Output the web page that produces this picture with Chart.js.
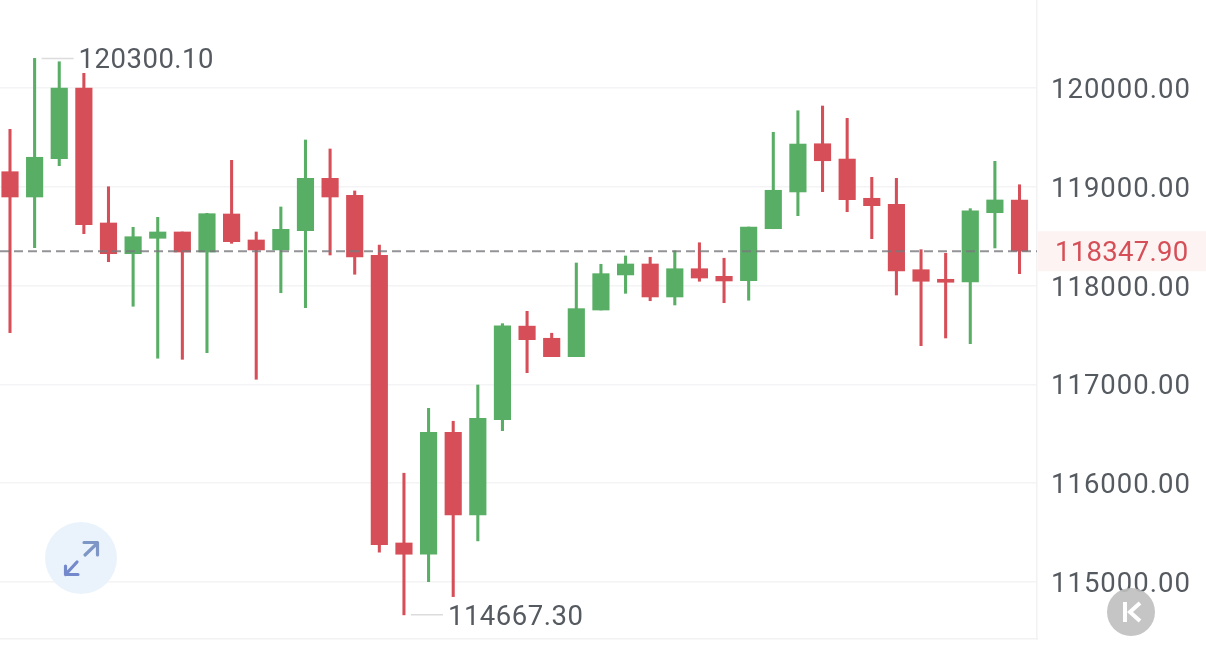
<!DOCTYPE html>
<html>
<head>
<meta charset="utf-8">
<title>Candles</title>
<script src="https://cdn.jsdelivr.net/npm/chart.js@4"></script>
<style>
  html, body { margin: 0; padding: 0; background: #fff; overflow: hidden; }
  #wrap { position: relative; width: 1206px; height: 645px; }
  #chart { display: block; }
  svg.btn { position: absolute; left: 0; top: 0; pointer-events: none; }
</style>
</head>
<body>
<div id="wrap">
  <canvas id="chart" width="1206" height="645"></canvas>
  <svg class="btn" width="1206" height="645" viewBox="0 0 1206 645">
    <circle cx="81" cy="558" r="36" fill="#eaf3fc"/>
    <g fill="none" stroke-width="3.2" stroke-linecap="round" stroke-linejoin="round">
      <path d="M85 555 L97.5 543 M84 542.5 H97.5 V555" stroke="#7e96c6"/>
      <path d="M77 562 L65.5 574.5 M65.5 566 V574.5 H78" stroke="#7488cc"/>
    </g>
    <circle cx="1131" cy="612" r="24" fill="#bfbfbf" fill-opacity="0.9"/>
    <path d="M1125 602 V622" stroke="#fff" stroke-width="4" fill="none"/>
    <path d="M1140 603 L1130 612 L1140 621" stroke="#fff" stroke-width="4" fill="none"/>
  </svg>
</div>
<script>
// Candle data
const candleIndex = [0, 1, 2, 3, 4, 5, 6, 7, 8, 9, 10, 11, 12, 13, 14, 15, 16, 17, 18, 19, 20,
  21, 22, 23, 24, 25, 26, 27, 28, 29, 30, 31, 32, 33, 34, 35, 36, 37, 38, 39, 40, 41];
const opens = [119153, 118897, 119285, 120000, 118634, 118323, 118479, 118543, 118340, 118725, 118462,
  118361, 118556, 119086, 118914, 118307, 115395, 115281, 116516, 115678, 116643,
  117590, 117467, 117281, 117753, 118108, 118219, 117885, 118171, 118094, 118050,
  118576, 118948, 119436, 119281, 118884, 118823, 118161, 118064, 118037, 118738, 118867];
const closes = [118897, 119299, 120000, 118617, 118323, 118495, 118543, 118340, 118728, 118445, 118361,
  118570, 119086, 118897, 118290, 115378, 115281, 116516, 115678, 116657, 117594,
  117453, 117281, 117767, 118121, 118219, 117885, 118171, 118077, 118047, 118593,
  118965, 119433, 119264, 118870, 118809, 118148, 118044, 118034, 118758, 118867, 118347.9];
const highs = [119582, 120300.1, 120266, 120149, 119001, 118590, 118691, 118543, 118732, 119268, 118543,
  118796, 119474, 119383, 118958, 118411, 116101, 116758, 116627, 116994, 117615,
  117740, 117518, 118229, 118216, 118300, 118287, 118353, 118434, 118277, 118593,
  119552, 119770, 119818, 119693, 119096, 119086, 118364, 118327, 118779, 119258, 119021];
const lows = [117524, 118384, 119214, 118526, 118242, 117791, 117265, 117254, 117321, 118428, 117052,
  117928, 117777, 118310, 118115, 115301, 114667.3, 115003, 114852, 115416, 116532,
  117119, 117281, 117281, 117753, 117922, 117847, 117804, 118044, 117827, 117852,
  118576, 118708, 118951, 118748, 118475, 117905, 117392, 117470, 117412, 118381, 118121];
const priceTicks = [115000, 116000, 117000, 118000, 119000, 120000];
const lastPrice = 118347.9;

const GREEN = '#58ae64';
const RED = '#d64f58';
const TEXT = '#555a60';
const FONT = 'Roboto, sans-serif';
const FONT_SIZE = 27.5;

const candleColors = candleIndex.map(i => closes[i] >= opens[i] ? GREEN : RED);

// last price line, its tag and the high / low markers
const overlay = {
  id: 'overlay',
  beforeDraw(chart) {
    chart.ctx.letterSpacing = '1px';
  },
  beforeDatasetsDraw(chart) {
    const { ctx, scales: { y }, chartArea } = chart;
    const py = y.getPixelForValue(lastPrice);
    ctx.save();
    ctx.fillStyle = '#fdf3f2';
    ctx.fillRect(chartArea.right + 1, py - 20, 170, 40);
    ctx.restore();
  },
  afterDatasetsDraw(chart) {
    const { ctx, scales: { x, y }, chartArea } = chart;
    const py = y.getPixelForValue(lastPrice);
    ctx.save();
    ctx.strokeStyle = 'rgba(120,120,125,0.8)';
    ctx.lineWidth = 1.8;
    ctx.setLineDash([9, 5]);
    ctx.beginPath();
    ctx.moveTo(chartArea.left, py);
    ctx.lineTo(chartArea.right, py);
    ctx.stroke();
    ctx.setLineDash([]);

    ctx.font = FONT_SIZE + 'px ' + FONT;
    ctx.textBaseline = 'middle';
    ctx.textAlign = 'left';
    ctx.letterSpacing = '0.3px';
    ctx.fillStyle = RED;
    ctx.fillText(lastPrice.toFixed(2), chartArea.right + 18, py + 3);

    ctx.letterSpacing = '0.5px';
    const marks = [
      { value: Math.max(...highs), at: highs.indexOf(Math.max(...highs)) },
      { value: Math.min(...lows), at: lows.indexOf(Math.min(...lows)) }
    ];
    marks.forEach(m => {
      const mx = x.getPixelForValue(m.at);
      const my = y.getPixelForValue(m.value);
      ctx.strokeStyle = '#dcdcdc';
      ctx.lineWidth = 1.5;
      ctx.beginPath();
      ctx.moveTo(mx + 7, my);
      ctx.lineTo(mx + 39, my);
      ctx.stroke();
      ctx.fillStyle = TEXT;
      ctx.fillText(m.value.toFixed(2), mx + 44, my + 3);
    });
    ctx.restore();
  }
};

new Chart(document.getElementById('chart'), {
  type: 'bar',
  data: {
    datasets: [
      {
        label: 'Wick',
        data: candleIndex.map(i => ({ x: i, y: [lows[i], highs[i]] })),
        backgroundColor: candleColors,
        barThickness: 2.4,
        grouped: false,
        order: 2
      },
      {
        label: 'Body',
        data: candleIndex.map(i => ({ x: i, y: [opens[i], closes[i]] })),
        backgroundColor: candleColors,
        barThickness: 16.5,
        grouped: false,
        order: 1
      }
    ]
  },
  plugins: [overlay],
  options: {
    responsive: false,
    animation: false,
    layout: { padding: { left: 0, right: 0, top: 0, bottom: 6 } },
    plugins: { legend: { display: false }, tooltip: { enabled: false } },
    scales: {
      x: {
        type: 'linear',
        offset: false,
        min: -0.406,
        max: 41.71,
        ticks: { display: false },
        grid: { display: false, drawTicks: false },
        border: { display: true, color: '#f2f2f3', width: 1.5 }
      },
      y: {
        position: 'right',
        min: 114423,
        max: 120891,
        afterBuildTicks(scale) {
          scale.ticks = priceTicks.map(value => ({ value }));
        },
        afterFit(scale) {
          scale.width = 169;
          scale.paddingTop = 0;
          scale.paddingBottom = 0;
        },
        ticks: {
          padding: 14,
          color: TEXT,
          // empty first line with a short line height nudges the digits down to the grid line
          font: { family: FONT, size: FONT_SIZE, lineHeight: 0.22 },
          callback: v => ['', Number(v).toFixed(2)]
        },
        grid: { color: '#f4f4f6', lineWidth: 1.5, drawTicks: false },
        border: { display: true, color: '#f2f2f3', width: 1.5 }
      }
    }
  }
});
</script>
</body>
</html>
